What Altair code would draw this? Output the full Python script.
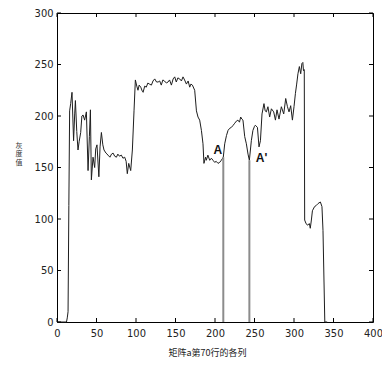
import altair as alt
import pandas as pd

# column index along row 70 of matrix a
col = [0, 12, 13, 14, 15, 16, 17.3, 19, 21, 22.4, 23.3, 25, 26.6, 28, 30, 31.5, 33, 35, 37.2, 39.3,
       41, 42.3, 43.5, 45.6, 47.7, 49, 50.6, 53, 54.5, 56.2, 58, 59.5, 62, 64.6, 67, 69, 71, 73, 75.2, 77,
       79, 81.5, 83.5, 85.7, 87.5, 89, 90.8, 93.3, 95.4, 97.5, 99.2, 101, 102.5, 104, 106, 108, 109, 111, 113, 115,
       117, 119.5, 121.5, 123.7, 126, 128, 130, 132, 134, 136, 138.5, 140.5, 142.5, 144.8, 147, 149, 151, 153, 155.3, 157.5,
       159.5, 161.5, 163.8, 166, 168, 169.5, 171.4, 174.3, 176.5, 178.5, 180.6, 182.8, 184.8, 186, 188, 189, 191, 193.3, 195.4, 197.5,
       199.6, 201.5, 203.8, 206, 208, 210.5, 212.3, 214.5, 216.5, 218.5, 220.8, 223, 225, 227, 229, 231, 232.5, 234, 235.4, 237.6,
       239.7, 241.8, 243.5, 246, 248, 250, 251, 253.7, 255.7, 257.5, 259.5, 262, 263.5, 265, 267, 269.2, 271.4, 274.3, 276.5, 278.5,
       281, 284, 287, 289.5, 291.7, 293.7, 295.8, 298, 300, 301.8, 303.4, 305, 306.8, 308.5, 310, 311.2, 312, 313, 313.5, 315,
       317, 319.5, 320.6, 322, 323.3, 326, 328, 330.4, 333.4, 335.4, 336.7, 339, 342]
# grey value
gray = [0, 0, 4, 10, 113, 205, 212, 223, 176, 202, 215, 185, 167, 175, 184, 200, 201, 196, 204, 147,
        180, 206, 138, 160, 150, 168, 172, 141, 170, 184, 172, 167, 164, 162, 160, 163, 164, 161, 160, 163,
        161, 162, 159, 160, 156, 144, 154, 147, 167, 205, 235, 229, 225, 230, 228, 224, 223, 229, 228, 232,
        231, 230, 234, 236, 233, 233, 234, 230, 235, 234, 232, 233, 235, 230, 236, 238, 233, 237, 236, 234,
        238, 235, 231, 234, 228, 231, 230, 225, 205, 199, 196, 186, 173, 154, 160, 157, 162, 157, 159, 157,
        155, 156, 154, 155, 157, 160, 173, 181, 186, 188, 189, 191, 193, 195, 196, 194, 199, 197, 196, 180,
        173, 163, 157, 176, 186, 190, 191, 189, 170, 176, 202, 212, 205, 204, 209, 199, 207, 204, 196, 206,
        197, 209, 202, 217, 209, 204, 210, 196, 209, 222, 231, 241, 248, 241, 251, 252, 244, 245, 99, 96,
        94, 95.5, 91, 99, 108, 112, 113, 115, 116.5, 112, 89, 0, 0]

# marked columns A and A'
mark_col = [210.5, 243.5]
mark_top = [160, 157]
label_text = ["A", "A'"]
label_col = [203.5, 259.0]
label_gray = [167, 159]

x_ticks = [0, 50, 100, 150, 200, 250, 300, 350, 400]
y_ticks = [0, 50, 100, 150, 200, 250, 300]

W, H = 316, 309
NUM_FONT = "Liberation Sans Narrow, Arial Narrow, DejaVu Sans Condensed, Liberation Sans, sans-serif"
CJK_FONT = "Noto Sans CJK SC"

xs = alt.Scale(domain=[0, 400], nice=False, zero=False)
ys = alt.Scale(domain=[0, 300], nice=False, zero=False)

x_axis = alt.Axis(
    values=x_ticks, ticks=False, domain=False, grid=False, labelFlush=False,
    labelFont=NUM_FONT, labelFontSize=11, labelColor="#222", labelPadding=5,
    title="矩阵a第70行的各列", titleFont=CJK_FONT, titleFontSize=9, titleFontWeight="normal",
    titleColor="#222", titleAlign="center", titleBaseline="middle", titleX=150, titleY=30)
y_axis = alt.Axis(
    values=y_ticks, ticks=False, domain=False, grid=False, labelFlush=False,
    labelFont=NUM_FONT, labelFontSize=11, labelColor="#222", labelPadding=4,
    title=["灰", "度", "值"], titleFont=CJK_FONT, titleFontSize=7, titleFontWeight="normal",
    titleColor="#333", titleAngle=0, titleAlign="center", titleBaseline="middle",
    titleLineHeight=8.5, titleX=-38.5, titleY=132)

line_df = pd.DataFrame({"col": col, "gray": gray})
mark_df = pd.DataFrame({"col": mark_col, "top": mark_top})
lab_df = pd.DataFrame({"col": label_col, "gray": label_gray, "t": label_text})
xt_df = pd.DataFrame({"t": x_ticks})
yt_df = pd.DataFrame({"t": y_ticks})

line = alt.Chart(line_df).mark_line(color="#1e1e1e", strokeWidth=1).encode(
    x=alt.X("col:Q", scale=xs, axis=x_axis),
    y=alt.Y("gray:Q", scale=ys, axis=y_axis),
)

marks = alt.Chart(mark_df).mark_rule(color="#8c8c8c", strokeWidth=2).encode(
    x=alt.X("col:Q", scale=xs, axis=x_axis),
    y=alt.Y("top:Q", scale=ys, axis=y_axis),
    y2=alt.datum(0),
)

labels = alt.Chart(lab_df).mark_text(font="Liberation Sans", fontSize=12, fontWeight="bold",
                                     color="#111", align="center", baseline="middle").encode(
    x=alt.X("col:Q", scale=xs, axis=x_axis),
    y=alt.Y("gray:Q", scale=ys, axis=y_axis),
    text="t:N",
)

tk = dict(color="black", strokeWidth=1)
bottom_t = alt.Chart(xt_df).mark_rule(**tk).encode(
    x=alt.X("t:Q", scale=xs, axis=x_axis), y=alt.value(H), y2=alt.value(H - 4))
top_t = alt.Chart(xt_df).mark_rule(**tk).encode(
    x=alt.X("t:Q", scale=xs, axis=x_axis), y=alt.value(0), y2=alt.value(4))
left_t = alt.Chart(yt_df).mark_rule(**tk).encode(
    y=alt.Y("t:Q", scale=ys, axis=y_axis), x=alt.value(0), x2=alt.value(4))
right_t = alt.Chart(yt_df).mark_rule(**tk).encode(
    y=alt.Y("t:Q", scale=ys, axis=y_axis), x=alt.value(W), x2=alt.value(W - 4))

chart = alt.layer(line, marks, labels, bottom_t, top_t, left_t, right_t).properties(
    width=W, height=H,
    autosize=alt.AutoSizeParams(type="none"),
    padding={"left": 57, "top": 13, "right": 9, "bottom": 49},
    background="white",
).configure_view(stroke="black", strokeWidth=1)

chart.save("out.html", embed_options={"renderer": "svg", "actions": False})
